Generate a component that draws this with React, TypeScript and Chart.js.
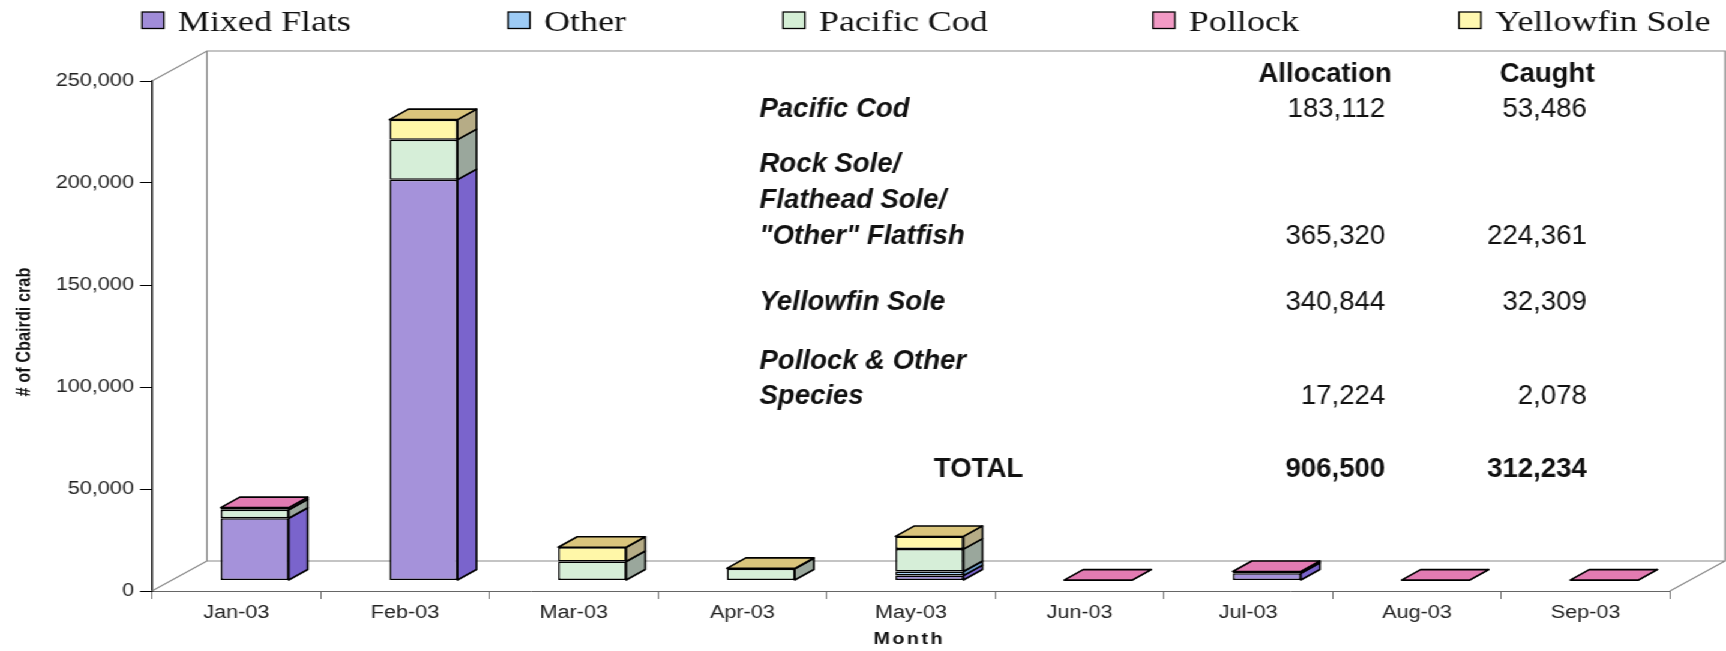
import { useEffect, useRef } from 'react';
import { Chart, registerables } from 'chart.js';

Chart.register(...registerables);

// ---------------- data ----------------
const months = ['Jan-03', 'Feb-03', 'Mar-03', 'Apr-03', 'May-03', 'Jun-03', 'Jul-03', 'Aug-03', 'Sep-03'];
const seriesNames = ['Mixed Flats', 'Other', 'Pacific Cod', 'Pollock', 'Yellowfin Sole'];
const mixedFlats = [30500, 196500, null, null, 2400, null, 3500, null, null];
const other = [null, null, null, null, 2000, null, null, null, null];
const pacificCod = [4200, 19600, 9300, 5700, 11000, null, null, null, null];
const pollock = [1000, null, null, null, null, 200, 900, 200, 200];
const yellowfinSole = [null, 9800, 7000, 250, 6200, null, null, null, null];
const yMax = 250000;
const yStep = 50000;

const tableHeader = ['Allocation', 'Caught'];
const tableSpecies = [['Pacific Cod'], ['Rock Sole/', 'Flathead Sole/', '"Other" Flatfish'], ['Yellowfin Sole'], ['Pollock & Other', 'Species']];
const tableAllocation = ['183,112', '365,320', '340,844', '17,224'];
const tableCaught = ['53,486', '224,361', '32,309', '2,078'];
const tableTotal = ['TOTAL', '906,500', '312,234'];

const yTitle = '# of Cbairdi crab';
const xTitle = 'Month';

// ---------------- styles ----------------
const FRONT = ['#A592DA', '#A8D0F2', '#D6EED8', '#EE8BBF', '#FFF7A8'];
const SIDE = ['#7A64CC', '#6E9CC8', '#9AA79C', '#B95E8E', '#B6AC86'];
const TOP = ['#8F7CD4', '#86B6DE', '#B9CDBB', '#E27BB2', '#DAC57C'];
const LEGEND = ['#A08CD8', '#9DCBF5', '#D4EED5', '#F29AC5', '#FFF8B0'];

const W = 1438;
const H = 651;
const K = 1726 / W; // horizontal stretch of whole picture
const SANS = '"Liberation Sans", Arial, sans-serif';
const SERIF = '"Liberation Serif", "Times New Roman", serif';

const CHART_LEFT = 152 / K;
const CHART_RIGHT = 1670 / K;
const DEPTH_X = 55 / K;
const DEPTH_Y = -30;
const BAR_OX = 18.5 / K;
const BAR_OY = -10.5;
const BAR_DX = 19 / K;
const BAR_DY = -10.5;

function drawText(ctx: CanvasRenderingContext2D, text: string, x: number, y: number, font: string, align: CanvasTextAlign, sx: number) {
  ctx.save();
  ctx.translate(x, y);
  ctx.scale(sx, 1);
  ctx.font = font;
  ctx.textAlign = align;
  ctx.textBaseline = 'middle';
  ctx.fillStyle = '#111';
  ctx.fillText(text, 0, 0);
  ctx.restore();
}

const threeD = {
  id: 'threeD',
  beforeDatasetsDraw(chart: any) {
    const { ctx, chartArea, scales } = chart;
    const y = scales.y;
    const L = chartArea.left;
    const R = chartArea.right;
    const y0 = y.getPixelForValue(0);
    const yT = y.getPixelForValue(yMax);
    ctx.save();
    ctx.strokeStyle = '#8a8a8a';
    ctx.lineWidth = 1.2;
    ctx.beginPath();
    ctx.moveTo(L, yT);
    ctx.lineTo(L + DEPTH_X, yT + DEPTH_Y);
    ctx.lineTo(R + DEPTH_X, yT + DEPTH_Y);
    ctx.lineTo(R + DEPTH_X, y0 + DEPTH_Y);
    ctx.lineTo(L + DEPTH_X, y0 + DEPTH_Y);
    ctx.lineTo(L + DEPTH_X, yT + DEPTH_Y);
    ctx.moveTo(L, y0);
    ctx.lineTo(L + DEPTH_X, y0 + DEPTH_Y);
    ctx.moveTo(R, y0);
    ctx.lineTo(R + DEPTH_X, y0 + DEPTH_Y);
    ctx.stroke();
    ctx.restore();
    ctx.save();
    ctx.translate(BAR_OX, BAR_OY);
  },
  afterDatasetsDraw(chart: any) {
    const ctx: CanvasRenderingContext2D = chart.ctx;
    const dsets = chart.data.datasets;
    const n = chart.data.labels.length;
    ctx.lineWidth = 1.6;
    ctx.strokeStyle = '#000';
    ctx.lineJoin = 'round';
    for (let i = 0; i < n; i++) {
      let topDs = -1;
      for (let d = dsets.length - 1; d >= 0; d--) {
        const v = dsets[d].data[i];
        if (v != null && v > 0) { topDs = d; break; }
      }
      for (let d = 0; d < dsets.length; d++) {
        const v = dsets[d].data[i];
        if (v == null || !(v > 0)) continue;
        const el = chart.getDatasetMeta(d).data[i];
        const p = el.getProps(['x', 'y', 'base', 'width'], true);
        const l = p.x - p.width / 2;
        const r = p.x + p.width / 2;
        ctx.beginPath();
        ctx.moveTo(r, p.y);
        ctx.lineTo(r + BAR_DX, p.y + BAR_DY);
        ctx.lineTo(r + BAR_DX, p.base + BAR_DY);
        ctx.lineTo(r, p.base);
        ctx.closePath();
        ctx.fillStyle = SIDE[d];
        ctx.fill();
        ctx.stroke();
        if (d === topDs) {
          ctx.beginPath();
          ctx.moveTo(l, p.y);
          ctx.lineTo(l + BAR_DX, p.y + BAR_DY);
          ctx.lineTo(r + BAR_DX, p.y + BAR_DY);
          ctx.lineTo(r, p.y);
          ctx.closePath();
          ctx.fillStyle = TOP[d];
          ctx.fill();
          ctx.stroke();
        }
      }
    }
    ctx.restore();
  },
  afterDraw(chart: any) {
    const ctx: CanvasRenderingContext2D = chart.ctx;
    // legend
    const boxX = [118.3, 423.2, 652.3, 960.6, 1215.5];
    chart.data.datasets.forEach((ds: any, i: number) => {
      ctx.save();
      ctx.fillStyle = LEGEND[i];
      ctx.fillRect(boxX[i], 12, 18.3, 16.5);
      ctx.strokeStyle = '#000';
      ctx.lineWidth = 1.3;
      ctx.strokeRect(boxX[i], 12, 18.3, 16.5);
      ctx.font = `30px ${SERIF}`;
      ctx.textAlign = 'left';
      ctx.textBaseline = 'alphabetic';
      ctx.fillStyle = '#111';
      ctx.fillText(ds.label, boxX[i] + 30, 30.5);
      ctx.restore();
    });

    // axis titles
    ctx.save();
    ctx.translate(20, 332);
    ctx.rotate(-Math.PI / 2);
    ctx.scale(0.96, 1);
    ctx.font = `bold 17px ${SANS}`;
    ctx.textAlign = 'center';
    ctx.textBaseline = 'middle';
    ctx.fillStyle = '#111';
    ctx.fillText(yTitle, 0, 0);
    ctx.restore();

    ctx.save();
    (ctx as any).letterSpacing = '2px';
    ctx.font = `bold 16.5px ${SANS}`;
    ctx.textAlign = 'center';
    ctx.textBaseline = 'middle';
    ctx.fillStyle = '#111';
    ctx.fillText(xTitle, 757.5, 639);
    ctx.restore();

    // table
    const sx = 0.85;
    const fReg = `27px ${SANS}`;
    const fBold = `bold 27px ${SANS}`;
    const fBI = `italic bold 27px ${SANS}`;
    const labelX = 632.8;
    const col1 = 1154;
    const col2 = 1322;
    drawText(ctx, tableHeader[0], 1104, 75, fBold, 'center', sx);
    drawText(ctx, tableHeader[1], 1289, 75, fBold, 'center', sx);
    const rowLines = [[110], [165, 201, 237], [303], [362, 397]];
    tableSpecies.forEach((lines, r) => {
      lines.forEach((t, j) => drawText(ctx, t, labelX, rowLines[r][j], fBI, 'left', sx));
      const yy = rowLines[r][rowLines[r].length - 1];
      drawText(ctx, tableAllocation[r], col1, yy, fReg, 'right', sx);
      drawText(ctx, tableCaught[r], col2, yy, fReg, 'right', sx);
    });
    drawText(ctx, tableTotal[0], 815.3, 470, fBold, 'center', sx);
    drawText(ctx, tableTotal[1], col1, 470, fBold, 'right', sx);
    drawText(ctx, tableTotal[2], col2, 470, fBold, 'right', sx);
  },
};

export default function App() {
  const ref = useRef<HTMLCanvasElement | null>(null);
  useEffect(() => {
    const canvas = ref.current;
    if (!canvas) return;
    const seriesData = [mixedFlats, other, pacificCod, pollock, yellowfinSole];
    const chart = new Chart(canvas, {
      type: 'bar',
      data: {
        labels: months,
        datasets: seriesNames.map((name, i) => ({
          label: name,
          data: seriesData[i] as any,
          backgroundColor: FRONT[i],
          borderColor: '#000',
          borderWidth: 1.5,
          borderSkipped: false,
          barPercentage: 0.403,
          categoryPercentage: 1,
          clip: false as any,
        })),
      },
      options: {
        responsive: false,
        animation: false,
        devicePixelRatio: 1,
        layout: { padding: { left: 0, right: W - CHART_RIGHT, top: 81, bottom: 20 } },
        plugins: { legend: { display: false }, tooltip: { enabled: false }, title: { display: false } },
        scales: {
          x: {
            stacked: true,
            grid: { drawOnChartArea: false, drawTicks: true, tickLength: 8, color: '#777', offset: true },
            border: { display: true, color: '#666', width: 1 },
            ticks: { font: { family: SANS, size: 18 }, color: '#222', padding: 3, maxRotation: 0, autoSkip: false },
            afterFit: (s: any) => { s.height = 40; },
          },
          y: {
            stacked: true,
            min: 0,
            max: yMax,
            grid: { drawOnChartArea: false, drawTicks: true, tickLength: 10, color: '#000' },
            border: { display: true, color: '#000', width: 1.4 },
            ticks: {
              stepSize: yStep,
              font: { family: SANS, size: 18 },
              color: '#222',
              padding: 5,
              callback: (v: any) => Number(v).toLocaleString('en-US'),
            },
            afterFit: (s: any) => { s.width = CHART_LEFT; },
          },
        },
      },
      plugins: [threeD],
    });
    return () => chart.destroy();
  }, []);
  return (
    <div style={{ position: 'absolute', left: 0, top: 0, width: W, height: H, transform: `scaleX(${K})`, transformOrigin: '0 0', background: '#fff' }}>
      <canvas ref={ref} width={W} height={H} />
    </div>
  );
}
